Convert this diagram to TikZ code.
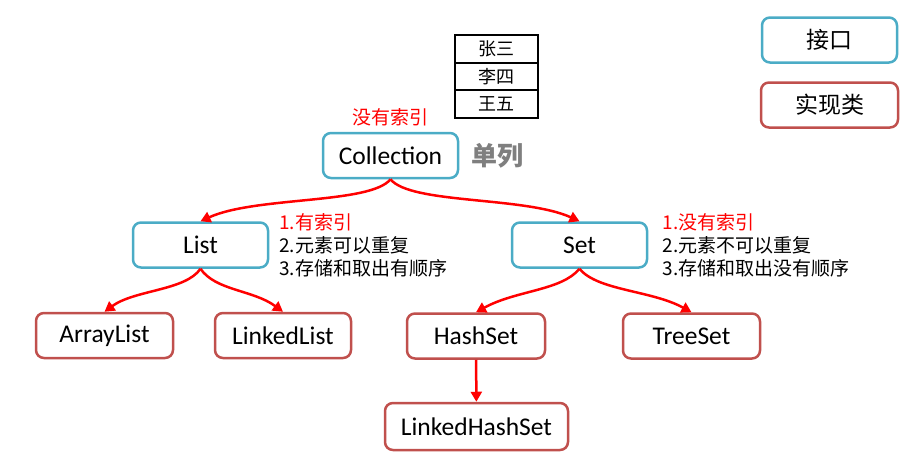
\documentclass[tikz,border=0pt]{standalone}
\usepackage{fontspec}
\setmainfont{Carlito}
\newfontfamily\cjk{Noto Sans CJK SC}
\usepackage{tikz}
\usetikzlibrary{positioning,arrows.meta}
\definecolor{ifblue}{RGB}{75,172,198}
\definecolor{clsred}{RGB}{192,80,77}
\definecolor{labgray}{RGB}{127,127,127}

\begin{document}
\begin{tikzpicture}[
		x=1pt, y=-1pt,
		node distance=10pt,
		iface/.style={
			draw=ifblue,
			line width=2.5pt,
			rounded corners=8pt,
			minimum width=135pt,
			minimum height=45pt,
			font=\fontsize{25.5}{28}\selectfont
		},
		impl/.style={
			draw=clsred,
			line width=2.5pt,
			rounded corners=8pt,
			minimum width=137pt,
			minimum height=45pt,
			font=\fontsize{25.5}{28}\selectfont
		},
		cell/.style={
			draw,
			line width=2pt,
			outer sep=0pt,
			minimum width=83pt,
			minimum height=27.5pt,
			font=\cjk\fontsize{18}{20}\selectfont
		},
		note/.style={
			align=left,
			inner sep=0pt,
			font=\cjk\fontsize{19}{23}\selectfont
		},
		arrow/.style={-{Triangle[length=10pt,width=11pt]},red,line width=2.5pt}
		]
		
		\useasboundingbox (0,0) rectangle (914,453);
		
		\node[cell] (zs) at (496.5,49) {张三};
		\node[cell,below=0pt of zs] (ls) {李四};
		\node[cell,below=0pt of ls] (ww) {王五};
		
		\node[iface,font=\cjk\fontsize{23}{26}\selectfont] (keyif) at (829.5,40) {接口};
		\node[impl,font=\cjk\fontsize{23}{26}\selectfont] (keyimpl) at (829.5,105) {实现类};
		
		\node[iface] (coll) at (390.5,155.5) {Collection};
		\node[note,text=red,above=6pt of coll] (collnote) {没有索引};
		\node[inner sep=0pt,right=12pt of coll,text=labgray,font=\cjk\bfseries\fontsize{26}{28}\selectfont] (single) {单列};
		
		\node[iface] (list) at (200.5,245) {List};
		\node[note,right=10pt of list] (listnote)
		{\textcolor{red}{1.有索引}\\ 2.元素可以重复\\ 3.存储和取出有顺序};
		
		\node[iface] (set) at (579.5,245) {Set};
		\node[note,right=14pt of set] (setnote)
		{\textcolor{red}{1.没有索引}\\ 2.元素不可以重复\\ 3.存储和取出没有顺序};
		
		\node[impl] (arr) at (104.5,335.5) {ArrayList};
		\node[impl,minimum width=136pt] (llist) at (283,335.5) {LinkedList};
		\node[impl,minimum width=138pt] (hset) at (476,336) {HashSet};
		\node[impl] (tset) at (691.5,336) {TreeSet};
		\node[impl,minimum width=183pt,minimum height=47pt] (lhset) at (476.5,426.5) {LinkedHashSet};
		
		\draw[arrow] (coll.south) .. controls +(-20,25) and +(55,-25) .. (list.north);
		\draw[arrow] (coll.south) .. controls +(20,25) and +(-55,-25) .. (set.north);
		\draw[arrow] (list.south) .. controls +(-15,22) and +(30,-22) .. (arr.north);
		\draw[arrow] (list.south) .. controls +(15,22) and +(-30,-22) .. (llist.north);
		\draw[arrow] (set.south) .. controls +(-18,22) and +(40,-22) .. (hset.north);
		\draw[arrow] (set.south) .. controls +(18,22) and +(-40,-22) .. (tset.north);
		\draw[arrow] (hset) -- (lhset);
		
	\end{tikzpicture}
\end{document}
